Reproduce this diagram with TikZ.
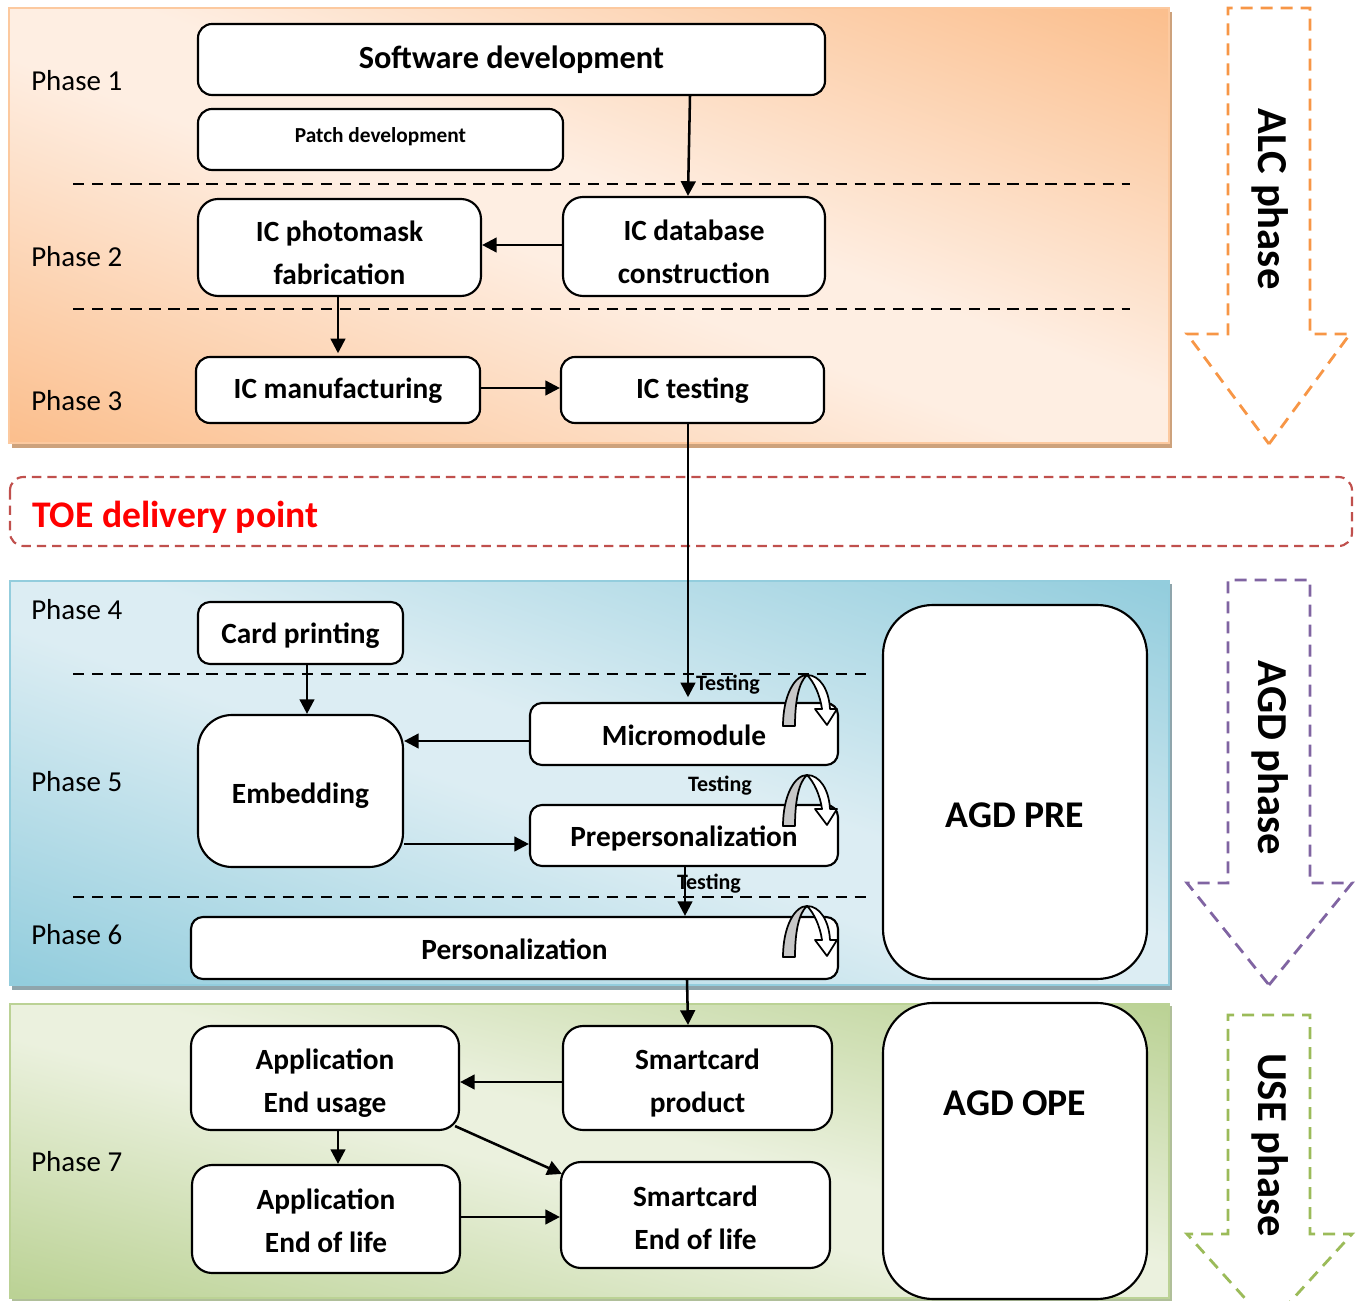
\documentclass[tikz,border=0pt]{standalone}
\usepackage{fontspec}
\setmainfont{Carlito}
\usetikzlibrary{arrows.meta,calc}
\definecolor{orA}{HTML}{FBBF8E}\definecolor{orB}{HTML}{FEEEE2}\definecolor{orS}{HTML}{CDA27C}
\definecolor{blA}{HTML}{93CDDD}\definecolor{blB}{HTML}{DCEDF3}\definecolor{blS}{HTML}{8FA5AC}
\definecolor{grA}{HTML}{BBD295}\definecolor{grB}{HTML}{EBF1DE}\definecolor{grS}{HTML}{B0BF9A}
\definecolor{phO}{HTML}{F79646}\definecolor{phP}{HTML}{8064A2}\definecolor{phG}{HTML}{9BBB59}\definecolor{toe}{HTML}{C0504D}
\pgfdeclareverticalshading{shor}{100bp}{color(0bp)=(orA);color(15bp)=(orA);color(46bp)=(orB);color(54bp)=(orB);color(85bp)=(orA);color(100bp)=(orA)}
\pgfdeclareverticalshading{shbl}{100bp}{color(0bp)=(blA);color(15bp)=(blA);color(46bp)=(blB);color(54bp)=(blB);color(85bp)=(blA);color(100bp)=(blA)}
\pgfdeclareverticalshading{shgr}{100bp}{color(0bp)=(grA);color(15bp)=(grA);color(46bp)=(grB);color(54bp)=(grB);color(85bp)=(grA);color(100bp)=(grA)}
\tikzset{
  x=0.75pt,y=-0.75pt,
  box/.style={draw=black,fill=white,line width=1.6pt,inner sep=0pt},
  boxtext/.style={inner sep=0pt,align=center,font=\bfseries\fontsize{22}{32.3}\selectfont},
  conn/.style={line width=1.9pt,-{Triangle[length=11pt,width=11pt]}},
  phase/.style={font=\fontsize{21.7}{26}\selectfont,anchor=west,inner sep=0pt},
  sep/.style={line width=1.9pt,dash pattern=on 8.5pt off 5.8pt},
  phasearrow/.style={line width=2.1pt,dash pattern=on 9pt off 6pt},
  phasetext/.style={font=\bfseries\fontsize{32}{38}\selectfont,rotate=-90,inner sep=0pt},
  testlab/.style={font=\bfseries\fontsize{16.5}{20}\selectfont,inner sep=0pt},
}
% name, x1, y1, x2, y2, radius, text offset, text
\newcommand{\bx}[8]{\node[box,rounded corners=#6*0.75pt,minimum width={(#4-#2)*0.75pt},minimum height={(#5-#3)*0.75pt}] (#1) at ({(#2+#4)/2},{(#3+#5)/2}) {};
  \node[boxtext] (#1t) at ({(#2+#4)/2},{(#3+#5)/2+#7}) {#8};}
\newcommand{\loopar}[1]{\begin{scope}[yshift=-#1*0.75pt]
  \draw[line width=1.3pt,fill=black!22,line join=round] (783,726) .. controls (783,695) and (795,675) .. (807,675) .. controls (799,682) and (795,700) .. (795,726) -- cycle;
  \draw[line width=1.3pt,fill=white,line join=round] (807,675) .. controls (820,675) and (829,690) .. (830,709) -- (837,709) -- (827,725) -- (815,709) -- (822,709) .. controls (820,695) and (814,682) .. (807,675) -- cycle;
\end{scope}}
\begin{document}
\begin{tikzpicture}
\useasboundingbox (0,0) rectangle (1361,1301);
% bands
\fill[orS] (12,12) rectangle (1172,448);
\path[transform canvas={shift={(9,8)},xscale=11.6,yscale=4.35},shading=shor,shading angle=135] (0,0) rectangle (100,100);
\draw[orA!85!white,line width=.8pt] (9,8) rectangle (1169,443);
\fill[blS] (12,584) rectangle (1172,990);
\path[transform canvas={shift={(10,581)},xscale=11.59,yscale=4.04},shading=shbl,shading angle=135] (0,0) rectangle (100,100);
\draw[blA,line width=1.5pt] (10,581) rectangle (1169,985);
\fill[grS] (12,1006) rectangle (1172,1301);
\path[transform canvas={shift={(10,1004)},xscale=11.59,yscale=2.94},shading=shgr,shading angle=135] (0,0) rectangle (100,100);
\draw[grA,line width=1.5pt] (10,1004) rectangle (1169,1298);
% separators
\draw[sep] (73,184) -- (1130,184);
\draw[sep] (73,309) -- (1130,309);
\draw[sep] (73,674) -- (870,674);
\draw[sep] (73,897) -- (870,897);
% phase labels
\node[phase] (p1) at (31,81) {Phase 1};
\node[phase] (p2) at (31,257) {Phase 2};
\node[phase] (p3) at (31,401) {Phase 3};
\node[phase] (p4) at (31,610) {Phase 4};
\node[phase] (p5) at (31,782) {Phase 5};
\node[phase] (p6) at (31,935) {Phase 6};
\node[phase] (p7) at (31,1162) {Phase 7};
% delivery
\draw[toe,line width=1.6pt,dash pattern=on 7pt off 4.5pt,rounded corners=10pt] (10,477) rectangle (1352,546);
\node[anchor=west,inner sep=0pt,text=red,font=\bfseries\fontsize{28.2}{34}\selectfont] (toe) at (32,517) {TOE delivery point};
% boxes
\bx{sw}{198}{24}{825}{95}{14}{0}{\fontsize{24.2}{29}\selectfont Software development}
\bx{patch}{198}{109}{563}{170}{14}{-3}{\fontsize{16}{19}\selectfont Patch development}
\bx{mask}{198}{199}{481}{296}{20}{5.5}{IC photomask\\fabrication}
\bx{db}{563}{197}{825}{296}{20}{5.5}{IC database\\construction}
\bx{manuf}{196}{357}{480}{423}{14}{1}{IC manufacturing}
\bx{test}{561}{357}{824}{423}{14}{1}{IC testing}
\bx{card}{198}{602}{403}{664}{12}{3}{Card printing}
\bx{emb}{198}{715}{403}{867}{34}{5}{Embedding}
\bx{micro}{530}{703}{838}{765}{12}{1}{Micromodule}
\bx{prep}{530}{805}{838}{866}{12}{3}{Prepersonalization}
\bx{pers}{191}{917}{838}{979}{12}{1}{Personalization}
\bx{agdpre}{883}{605}{1147}{979}{50}{23}{\fontsize{28.3}{34}\selectfont AGD PRE}
\bx{agdope}{883}{1003}{1147}{1299}{50}{-48}{\fontsize{28.3}{34}\selectfont AGD OPE}
\bx{app}{191}{1026}{459}{1130}{20}{5.5}{Application\\End usage}
\bx{prod}{563}{1026}{832}{1130}{20}{5}{Smartcard\\product}
\bx{appe}{192}{1165}{460}{1273}{20}{1.5}{Application\\End of life}
\bx{cardE}{561}{1162}{830}{1268}{20}{2.5}{Smartcard\\End of life}
% connectors
\draw[conn] (690,0 |- sw.south) -- (688,0 |- db.north);
\draw[conn] (db.west |- 0,245) -- (mask.east |- 0,245);
\draw[conn,shorten >=2pt] (338,0 |- mask.south) -- (338,0 |- manuf.north);
\draw[conn] (manuf.east |- 0,388) -- (test.west |- 0,388);
\draw[conn,shorten >=3.5pt] (688,0 |- test.south) -- (688,0 |- micro.north);
\draw[conn] (307,0 |- card.south) -- (307,0 |- emb.north);
\draw[conn] (micro.west |- 0,741) -- (emb.east |- 0,741);
\draw[conn] (emb.east |- 0,844) -- (prep.west |- 0,844);
\draw[conn] (685,0 |- prep.south) -- (685,0 |- pers.north);
\draw[conn] (687,0 |- pers.south) -- (688,0 |- prod.north);
\draw[conn] (prod.west |- 0,1082) -- (app.east |- 0,1082);
\draw[conn] (338,0 |- app.south) -- (338,0 |- appe.north);
\coordinate (ca) at ($(app.south east)+(-5,-5)$);
\coordinate (cb) at ($(cardE.north west)+(2,13)$);
\draw[conn] (ca) -- (cb);
\draw[conn] (appe.east |- 0,1217) -- (cardE.west |- 0,1217);
% testing labels and loops
\node[testlab] (t1) at (728,685) {Testing};
\node[testlab] (t2) at (720,786) {Testing};
\node[testlab] (t3) at (709,884) {Testing};
\loopar{0}
\loopar{100}
\loopar{231}
% phase arrows
\begin{scope}
\clip (0,0) rectangle (1361,1301);
\draw[phO,phasearrow] (1269,444) -- (1350,334) -- (1310,334) -- (1310,8) -- (1228,8) -- (1228,334) -- (1187,334) -- cycle;
\draw[phP,phasearrow] (1269,985) -- (1352,883) -- (1310,883) -- (1310,580) -- (1228,580) -- (1228,883) -- (1187,883) -- cycle;
\draw[phG,phasearrow] (1269,1325) -- (1352,1234) -- (1310,1234) -- (1310,1015) -- (1228,1015) -- (1228,1234) -- (1187,1234) -- cycle;
\end{scope}
\node[phasetext] (alc) at (1270,199) {ALC phase};
\node[phasetext] (agd) at (1270,758) {AGD phase};
\node[phasetext] (use) at (1270,1145) {USE phase};
\end{tikzpicture}
\end{document}
